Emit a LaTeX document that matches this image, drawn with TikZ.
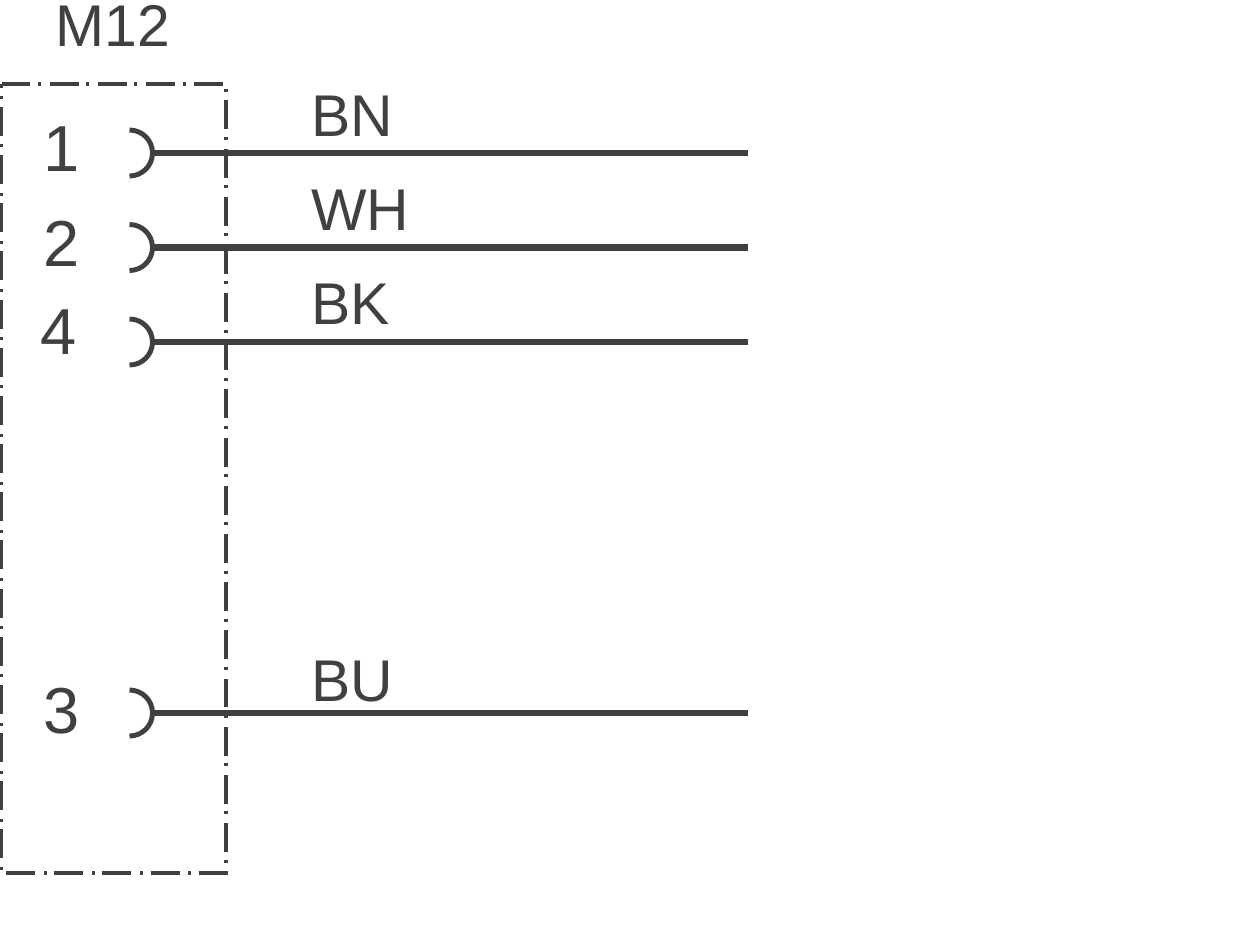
\documentclass[tikz,border=0pt]{standalone}
\usepackage{xcolor}
\usepackage{fontspec}
\setmainfont{Liberation Sans}
\definecolor{wiregray}{HTML}{404040}
\tikzset{
  housing/.style={wiregray,line width=1.75pt,dash pattern=on 16.5pt off 4.3pt on 1.7pt off 4.92pt},
  wire/.style={wiregray,line width=3.7pt},
  socket/.style={wiregray,line width=2.8pt},
  pinlabel/.style={text=wiregray,inner sep=0pt,font=\fontsize{37}{37}\selectfont},
  wirelabel/.style={text=wiregray,inner sep=0pt,anchor=base west,font=\fontsize{33.5}{33.5}\selectfont}
}
\begin{document}
\begin{tikzpicture}[x=0.02cm,y=-0.02cm]
\useasboundingbox (0,0) rectangle (1250,938);
% Housing
\draw[housing] (1.5,84) -- (226,84) -- (226,873) -- (1.5,873) -- cycle;
\node[text=wiregray,inner sep=0pt,font=\fontsize{33.5}{33.5}\selectfont] (title) at (113,26) {M12};
% Pins and wires
\foreach \pin/\ypos/\xnum/\ynum/\name/\ybase in {1/153/62/149/BN/136.5,2/247.5/62/244/WH/230.5,4/342/58.5/332.5/BK/324.5,3/713/62/711.5/BU/701.5}
{
    \node[pinlabel] (num\pin) at (\xnum,\ynum) {\pin};
    \coordinate (sock\pin) at (153,\ypos);
    \coordinate (end\pin) at (748,\ypos);
    \draw[socket] (129.5,\ypos-23) arc[start angle=-90,end angle=90,radius=23];
    \draw[wire] (sock\pin) -- (end\pin);
    \node[wirelabel] (wire\pin) at (311,\ybase) {\name};
}
\end{tikzpicture}
\end{document}
